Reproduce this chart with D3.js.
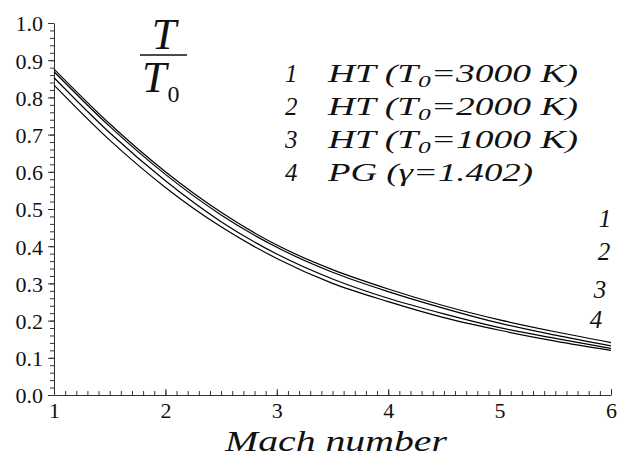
<!DOCTYPE html>
<html><head><meta charset="utf-8">
<script src="https://cdn.jsdelivr.net/npm/d3@7/dist/d3.min.js"></script>
<style>body{margin:0;background:#fff}svg{display:block}
svg text{font-family:"Liberation Serif","DejaVu Serif","Noto Serif",Tinos,"Times New Roman",serif;}
</style>
</head><body>
<script>
const mach = [1, 1.5, 2, 2.5, 3, 3.5, 4, 4.5, 5, 5.5, 6];
const curve1 = [0.876, 0.729, 0.600, 0.491, 0.403, 0.337, 0.285, 0.240, 0.202, 0.170, 0.141];
const curve2 = [0.869, 0.722, 0.593, 0.484, 0.397, 0.330, 0.278, 0.233, 0.193, 0.161, 0.132];
const curve3 = [0.853, 0.705, 0.576, 0.466, 0.379, 0.312, 0.260, 0.218, 0.181, 0.152, 0.125];
const curve4 = [0.833, 0.685, 0.558, 0.452, 0.367, 0.300, 0.251, 0.208, 0.174, 0.145, 0.120];
const seriesNames = ["1", "2", "3", "4"];
const legendNums = ["1", "2", "3", "4"];
const legendMain = ["HT (T", "HT (T", "HT (T", "PG ("];
const legendSub = ["0", "0", "0", null];
const legendRest = ["=3000 K)", "=2000 K)", "=1000 K)", "\u03B3=1.402)"];
const xTicks = [1, 2, 3, 4, 5, 6];
const yTicks = [0.0, 0.1, 0.2, 0.3, 0.4, 0.5, 0.6, 0.7, 0.8, 0.9, 1.0];

const W = 618, H = 458;
const svg = d3.select("body").append("svg").attr("width", W).attr("height", H);
const x = d3.scaleLinear().domain([1, 6]).range([54, 611]);
const y = d3.scaleLinear().domain([0, 1]).range([395, 23]);

// y axis
const yMinor = d3.range(0, 1.0001, 0.02);
svg.append("g").attr("transform", "translate(54,0)")
  .call(d3.axisLeft(y).tickValues(yMinor).tickSize(4).tickFormat(""))
  .call(g => g.select(".domain").remove())
  .selectAll("line").attr("stroke", "#333");
const ya = svg.append("g").attr("transform", "translate(54,0)")
  .call(d3.axisLeft(y).tickValues(yTicks).tickSize(6).tickSizeOuter(0).tickPadding(5).tickFormat(d3.format(".1f")));
ya.attr("font-family", null);
ya.select(".domain").attr("stroke", "#333");
ya.selectAll("line").attr("stroke", "#333");
ya.selectAll("text").attr("font-size", 22).attr("fill", "#111").attr("dy", "0.36em");

// x axis
const xMinor = d3.range(1, 6.0001, 0.1);
svg.append("g").attr("transform", "translate(0,395)")
  .call(d3.axisBottom(x).tickValues(xMinor).tickSize(-4).tickFormat(""))
  .call(g => g.select(".domain").remove())
  .selectAll("line").attr("stroke", "#333");
const xa = svg.append("g").attr("transform", "translate(0,395)")
  .call(d3.axisBottom(x).tickValues(xTicks).tickSize(-6).tickSizeOuter(0).tickPadding(7).tickFormat(d3.format("d")));
xa.attr("font-family", null);
xa.select(".domain").attr("stroke", "#333");
xa.selectAll("line").attr("stroke", "#333");
xa.selectAll("text").attr("font-size", 22).attr("fill", "#111");

// curves
const series = [curve1, curve2, curve3, curve4];
const line = d3.line().x((d, i) => x(mach[i])).y(d => y(d)).curve(d3.curveMonotoneX);
svg.append("g").selectAll("path").data(series).join("path")
  .attr("d", line).attr("fill", "none").attr("stroke", "#000").attr("stroke-width", 1.2);

// axis title
svg.append("text").attr("x", 225).attr("y", 451)
  .attr("font-style", "italic").attr("font-size", 30).attr("fill", "#111")
  .attr("textLength", 222).attr("lengthAdjust", "spacingAndGlyphs")
  .text("Mach number");

// T/T0 label
svg.append("text").attr("x", 164).attr("y", 49).attr("text-anchor", "middle")
  .attr("font-style", "italic").attr("font-size", 44).attr("fill", "#111").text("T");
svg.append("line").attr("x1", 140).attr("x2", 187).attr("y1", 55).attr("y2", 55).attr("stroke", "#111").attr("stroke-width", 1.5);
const tb = svg.append("text").attr("x", 142).attr("y", 92).attr("fill", "#111");
tb.append("tspan").attr("font-style", "italic").attr("font-size", 44).text("T");
tb.append("tspan").attr("font-size", 24).attr("dy", 10).attr("dx", 1).text("0");

// legend
const legY = [82, 115, 148, 181];
const legW = [250, 250, 250, 205];
legendNums.forEach((n, i) => {
  svg.append("text").attr("x", 285).attr("y", legY[i])
    .attr("font-style", "italic").attr("font-size", 25).attr("fill", "#111").text(n);
  const t = svg.append("text").attr("x", 328).attr("y", legY[i])
    .attr("font-style", "italic").attr("font-size", 25).attr("fill", "#111")
    .attr("textLength", legW[i]).attr("lengthAdjust", "spacingAndGlyphs");
  t.append("tspan").text(legendMain[i]);
  if (legendSub[i]) {
    t.append("tspan").attr("font-size", 17).attr("dy", 5).text(legendSub[i]);
    t.append("tspan").attr("dy", -5).text(legendRest[i]);
  } else {
    t.append("tspan").text(legendRest[i]);
  }
});

// right-side curve labels
const labX = [605, 604, 600, 596];
const labY = [227, 260, 298, 328];
seriesNames.forEach((n, i) => {
  svg.append("text").attr("x", labX[i]).attr("y", labY[i]).attr("text-anchor", "middle")
    .attr("font-style", "italic").attr("font-size", 25).attr("fill", "#111").text(n);
});
</script>
</body></html>
